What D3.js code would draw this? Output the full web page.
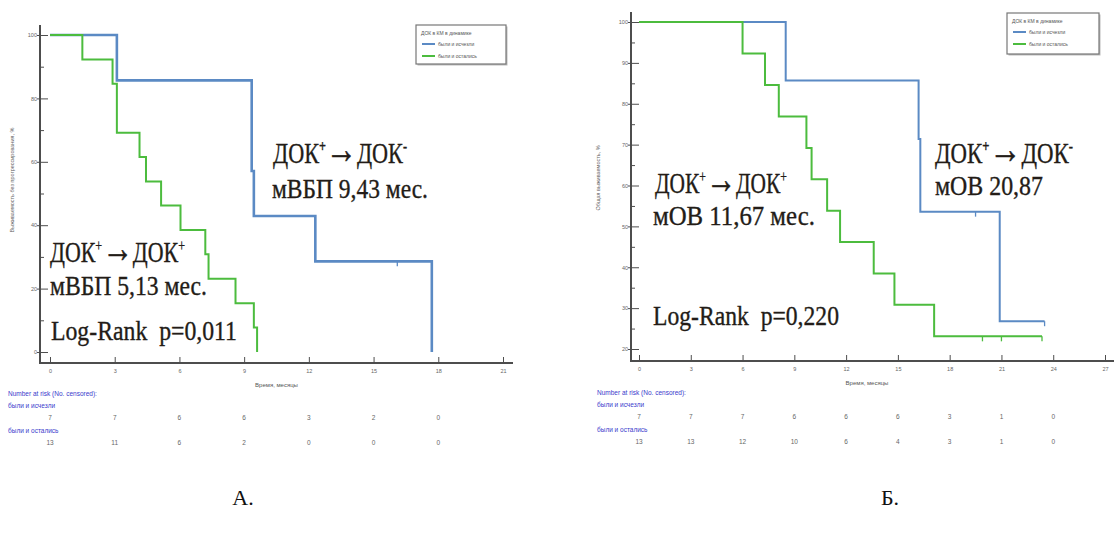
<!DOCTYPE html>
<html>
<head>
<meta charset="utf-8">
<script src="https://cdn.jsdelivr.net/npm/d3@7"></script>
<style>
  html, body { margin: 0; padding: 0; background: #fff; }
  svg { display: block; }
</style>
</head>
<body>
<svg id="chart" width="1114" height="534"></svg>
<script>
// ---------- DATA ----------
// Panel A (progression-free survival)
const aBlueTimes = [0, 3.1, 9.35, 9.45, 12.3, 17.7];
const aBlueSurv  = [100, 85.7, 57.1, 42.9, 28.6, 0];
const aBlueCens  = [16.1];
const aGreenTimes = [0, 1.5, 2.9, 3.1, 4.15, 4.45, 5.15, 6.05, 7.2, 7.35, 8.6, 9.45, 9.6];
const aGreenSurv  = [100, 92.3, 84.6, 69.2, 61.5, 53.8, 46.2, 38.5, 30.8, 23.1, 15.4, 7.7, 0];
const aGreenCens  = [];
const aXTicks = [0, 3, 6, 9, 12, 15, 18, 21];
const aYTicks = [0, 20, 40, 60, 80, 100];
const aYMinor = [10, 30, 50, 70, 90];
const aRiskTimes = [0, 3, 6, 9, 12, 15, 18];
const aRiskBlue  = [7, 7, 6, 6, 3, 2, 0];
const aRiskGreen = [13, 11, 6, 2, 0, 0, 0];

// Panel Б (overall survival)
const bBlueTimes = [0, 8.5, 16.2, 16.3, 20.9, 23.5];
const bBlueSurv  = [100, 85.7, 71.4, 53.6, 26.8, 26.8];
const bBlueCens  = [19.5, 23.5];
const bGreenTimes = [0, 6.0, 7.3, 8.1, 9.7, 10.0, 10.9, 11.65, 13.6, 14.8, 17.1, 23.35];
const bGreenSurv  = [100, 92.3, 84.6, 76.9, 69.2, 61.5, 53.8, 46.2, 38.5, 30.8, 23.1, 23.1];
const bGreenCens  = [19.9, 21.0, 23.35];
const bXTicks = [0, 3, 6, 9, 12, 15, 18, 21, 24, 27];
const bYTicks = [20, 30, 40, 50, 60, 70, 80, 90, 100];
const bYMinor = [25, 35, 45, 55, 65, 75, 85, 95];
const bRiskTimes = [0, 3, 6, 9, 12, 15, 18, 21, 24];
const bRiskBlue  = [7, 7, 7, 6, 6, 6, 3, 1, 0];
const bRiskGreen = [13, 13, 12, 10, 6, 4, 3, 1, 0];

const legendTitle = "ДОК в КМ в динамике";
const seriesNames = ["были и исчезли", "были и остались"];
const xTitle = "Время, месяцы";
const aYTitle = "Выживаемость без прогрессирования, %";
const bYTitle = "Общая выживаемость, %";
const riskHeader = "Number at risk (No. censored):";

// ---------- STYLE ----------
const BLUE = "#5b8ac4";
const GREEN = "#4cbc3e";
const AXIS = "#4d4d4d";
const TXT = "#231c17";
const SERIF = "Liberation Serif, Times New Roman, serif";
const SANS = "Liberation Sans, Arial, sans-serif";

const svg = d3.select("#chart");

function panel(cfg) {
  const g = svg.append("g");
  const x = d3.scaleLinear().domain(cfg.xDomain).range(cfg.xRange);
  const y = d3.scaleLinear().domain(cfg.yDomain).range(cfg.yRange);

  // axis lines
  g.append("line").attr("x1", cfg.axX).attr("x2", cfg.axX)
    .attr("y1", cfg.axTop).attr("y2", cfg.axY + 1)
    .attr("stroke", AXIS).attr("stroke-width", 2);
  g.append("line").attr("x1", cfg.axX - 1).attr("x2", cfg.axRight)
    .attr("y1", cfg.axY).attr("y2", cfg.axY)
    .attr("stroke", AXIS).attr("stroke-width", 2);

  // y axis major
  const ya = g.append("g").attr("transform", `translate(${cfg.axX},0)`)
    .call(d3.axisLeft(y).tickValues(cfg.yTicks).tickSize(-8).tickPadding(3));
  ya.select(".domain").remove();
  ya.selectAll(".tick line").attr("x1", -3).attr("x2", 8).attr("stroke", AXIS).attr("stroke-width", 1);
  ya.selectAll(".tick text").attr("font-size", 5.5).attr("fill", "#666").attr("font-family", SANS);
  // y axis minor
  const ym = g.append("g").attr("transform", `translate(${cfg.axX},0)`)
    .call(d3.axisLeft(y).tickValues(cfg.yMinor).tickSize(-4).tickFormat(""));
  ym.select(".domain").remove();
  ym.selectAll(".tick line").attr("stroke", AXIS).attr("stroke-width", 1);

  // x axis
  const xa = g.append("g").attr("transform", `translate(0,${cfg.axY})`)
    .call(d3.axisBottom(x).tickValues(cfg.xTicks).tickSize(-6).tickPadding(6));
  xa.select(".domain").remove();
  xa.selectAll(".tick line").attr("stroke", AXIS).attr("stroke-width", 1);
  xa.selectAll(".tick text").attr("font-size", 5.5).attr("fill", "#666").attr("font-family", SANS);

  // titles
  g.append("text").attr("x", (cfg.xRange[0] + cfg.xRange[1]) / 2 + cfg.xTitleDx).attr("y", cfg.axY + 24)
    .attr("text-anchor", "middle").attr("font-size", 6).attr("fill", "#555")
    .attr("font-family", SANS).text(xTitle);
  g.append("text").attr("transform", `translate(${cfg.yTitleX},${cfg.yTitleY}) rotate(-90)`)
    .attr("text-anchor", "middle").attr("font-size", 5.5).attr("fill", "#666")
    .attr("font-family", SANS).text(cfg.yTitle);

  // curves (blue first, green on top)
  const line = d3.line().x(d => x(d[0])).y(d => y(d[1])).curve(d3.curveStepAfter);
  const series = [
    { t: cfg.blueT, s: cfg.blueS, c: cfg.blueC, col: BLUE, w: cfg.blueW },
    { t: cfg.greenT, s: cfg.greenS, c: cfg.greenC, col: GREEN, w: 2 }
  ];
  series.forEach(sr => {
    const pts = sr.t.map((t, i) => [t, sr.s[i]]);
    g.append("path").datum(pts).attr("d", line)
      .attr("fill", "none").attr("stroke", sr.col).attr("stroke-width", sr.w)
      .attr("stroke-linejoin", "miter");
    const survAt = t => { let v = sr.s[0]; sr.t.forEach((tt, i) => { if (tt <= t) v = sr.s[i]; }); return v; };
    g.selectAll(null).data(sr.c).enter().append("line")
      .attr("x1", d => x(d)).attr("x2", d => x(d))
      .attr("y1", d => y(survAt(d))).attr("y2", d => y(survAt(d)) + 5)
      .attr("stroke", sr.col).attr("stroke-width", 1.3);
  });

  // legend
  const L = cfg.legend;
  const lg = g.append("g");
  lg.append("rect").attr("x", L.x + 1.5).attr("y", L.y + 1.5).attr("width", L.w).attr("height", L.h)
    .attr("fill", "#bbb");
  lg.append("rect").attr("x", L.x).attr("y", L.y).attr("width", L.w).attr("height", L.h)
    .attr("fill", "#fff").attr("stroke", "#777").attr("stroke-width", 1.2);
  lg.append("text").attr("x", L.x + 5).attr("y", L.y + 10).attr("font-size", 5)
    .attr("fill", "#555").attr("font-family", SANS).text(legendTitle);
  [BLUE, GREEN].forEach((c, i) => {
    const yy = L.y + 19 + i * 12;
    lg.append("line").attr("x1", L.x + 6).attr("x2", L.x + 19).attr("y1", yy).attr("y2", yy)
      .attr("stroke", c).attr("stroke-width", 2);
    lg.append("text").attr("x", L.x + 22).attr("y", yy + 2).attr("font-size", 5)
      .attr("fill", "#555").attr("font-family", SANS).text(seriesNames[i]);
  });

  // risk table
  const R = cfg.risk;
  g.append("text").attr("x", R.x).attr("y", R.y0).attr("font-size", 6.5).attr("fill", "#3a3acc")
    .attr("font-family", SANS).text(riskHeader);
  g.append("text").attr("x", R.x).attr("y", R.y0 + 12).attr("font-size", 6.5).attr("fill", "#3a3acc")
    .attr("font-family", SANS).text(seriesNames[0]);
  g.append("text").attr("x", R.x).attr("y", R.y0 + 37).attr("font-size", 6.5).attr("fill", "#3a3acc")
    .attr("font-family", SANS).text(seriesNames[1]);
  [[cfg.riskB, 24], [cfg.riskG, 49]].forEach(([arr, dy]) => {
    g.selectAll(null).data(arr).enter().append("text")
      .attr("x", (d, i) => x(cfg.riskT[i])).attr("y", R.y0 + dy)
      .attr("text-anchor", "middle").attr("font-size", 6.5).attr("fill", "#666")
      .attr("font-family", SANS).text(d => d);
  });
  return { x, y };
}

panel({
  xDomain: [0, 21], xRange: [50, 503], yDomain: [0, 100], yRange: [352, 35],
  axX: 40, axY: 363, axTop: 25, axRight: 513,
  xTicks: aXTicks, yTicks: aYTicks, yMinor: aYMinor,
  yTitle: aYTitle, yTitleX: 14, yTitleY: 180, xTitleDx: 0,
  blueT: aBlueTimes, blueS: aBlueSurv, blueC: aBlueCens, blueW: 2.6,
  greenT: aGreenTimes, greenS: aGreenSurv, greenC: aGreenCens,
  legend: { x: 416, y: 25, w: 90, h: 39 },
  risk: { x: 8, y0: 396 },
  riskT: aRiskTimes, riskB: aRiskBlue, riskG: aRiskGreen
});

panel({
  xDomain: [0, 27], xRange: [639, 1105], yDomain: [20, 100], yRange: [349, 22],
  axX: 631, axY: 361, axTop: 12, axRight: 1114,
  xTicks: bXTicks, yTicks: bYTicks, yMinor: bYMinor,
  yTitle: bYTitle, yTitleX: 600, yTitleY: 178, xTitleDx: -5,
  blueT: bBlueTimes, blueS: bBlueSurv, blueC: bBlueCens, blueW: 2,
  greenT: bGreenTimes, greenS: bGreenSurv, greenC: bGreenCens,
  legend: { x: 1007, y: 13, w: 92, h: 41 },
  risk: { x: 597, y0: 395 },
  riskT: bRiskTimes, riskB: bRiskBlue, riskG: bRiskGreen
});

// ---------- ANNOTATIONS ----------
// parts: plain strings, {sup} superscripts, {arrow} arrow
function annot(parts, x, y, width, size) {
  const t = svg.append("text").attr("font-family", SERIF).attr("font-size", size)
    .attr("fill", TXT).attr("stroke", TXT).attr("stroke-width", 0.35)
    .style("white-space", "pre");
  let up = false;
  parts.forEach(p => {
    let ts;
    if (typeof p === "string") {
      ts = t.append("tspan").text(p);
      if (up) { ts.attr("dy", size * 0.36); up = false; }
    } else if (p.sup) {
      ts = t.append("tspan").text(p.sup).attr("font-size", size * 0.55);
      if (p.bold) ts.attr("font-weight", "bold");
      if (!up) { ts.attr("dy", -size * 0.36); up = true; }
    } else if (p.arrow) {
      ts = t.append("tspan").text("→").attr("font-size", size * 1.4).attr("stroke-width", 0.5);
      if (up) { ts.attr("dy", size * 0.36); up = false; }
    }
  });
  const w = t.node().getComputedTextLength();
  t.attr("transform", `translate(${x},${y}) scale(${width / w},1)`);
}
const PLUS = { sup: "+" }, PLUSB = { sup: "+", bold: true }, MINUS = { sup: "-" }, ARROW = { arrow: true };

// Panel A
annot(["ДОК", PLUSB, ARROW, "ДОК", MINUS], 273, 163, 134, 30);
annot(["мВБП 9,43 мес."], 272, 198, 156, 27);
annot(["ДОК", PLUS, ARROW, "ДОК", PLUS], 50, 262, 135, 30);
annot(["мВБП 5,13 мес."], 50, 295, 157, 27);
annot(["Log-Rank\u00a0 p=0,011"], 51, 340, 186, 28);
// Panel Б
annot(["ДОК", PLUSB, ARROW, "ДОК", MINUS], 935, 163, 138, 30);
annot(["мОВ 20,87"], 935, 195, 108, 27);
annot(["ДОК", PLUS, ARROW, "ДОК", PLUS], 655, 193, 132, 30);
annot(["мОВ 11,67 мес."], 653, 225, 162, 27);
annot(["Log-Rank\u00a0 p=0,220"], 653, 325, 186, 28);

// captions
svg.append("text").attr("x", 243).attr("y", 505).attr("text-anchor", "middle")
  .attr("font-family", SERIF).attr("font-size", 22).attr("fill", "#111").text("А.");
svg.append("text").attr("x", 890).attr("y", 505).attr("text-anchor", "middle")
  .attr("font-family", SERIF).attr("font-size", 22).attr("fill", "#111").text("Б.");
</script>
</body>
</html>
